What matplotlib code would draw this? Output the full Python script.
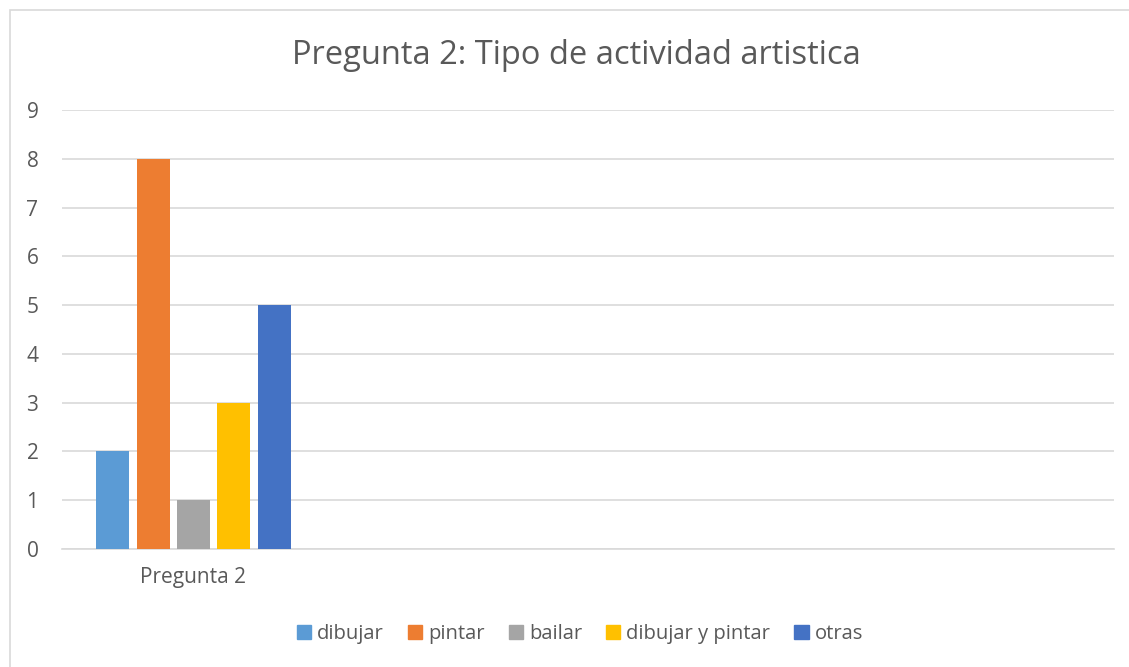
import matplotlib.pyplot as plt
from matplotlib.patches import Rectangle, Patch

plt.rcParams['font.family'] = ['Open Sans', 'DejaVu Sans']

categories = ['Pregunta 2', '', '', '']
series = ['dibujar', 'pintar', 'bailar', 'dibujar y pintar', 'otras']
values = [2, 8, 1, 3, 5]
colors = ['#5b9bd5', '#ed7d31', '#a5a5a5', '#ffc000', '#4472c4']
text_color = '#595959'

fig = plt.figure(figsize=(11.29, 6.67), dpi=100)
# chart frame like the spreadsheet chart area
fig.patches.append(Rectangle((10 / 1129, -0.1), 1.2, 1 - 10 / 667 + 0.1,
                             transform=fig.transFigure, fill=False,
                             edgecolor='#d9d9d9', linewidth=1.2))
ax = fig.add_axes([62 / 1129, 1 - 549 / 667, (1114 - 62) / 1129, (549 - 110) / 667])

width = 0.1255
step = 0.1535
for i, (name, v, c) in enumerate(zip(series, values, colors)):
    ax.bar(0.5 + (i - 2) * step, v, width=width, color=c, label=name, zorder=3)

ax.set_xlim(0, len(categories))
ax.set_ylim(0, 9)
ax.set_yticks(range(0, 10))
ax.set_xticks([0.5 + k for k in range(len(categories))])
ax.set_xticklabels(categories)
ax.yaxis.grid(True, color='#d9d9d9', linewidth=1.2, zorder=0)
for s in ['top', 'right', 'left']:
    ax.spines[s].set_visible(False)
ax.spines['bottom'].set_color('#d9d9d9')
ax.spines['bottom'].set_linewidth(1.2)
ax.tick_params(length=0, labelsize=15, labelcolor=text_color)
ax.tick_params(axis='y', pad=17)
ax.tick_params(axis='x', pad=13)

fig.text(576.5 / 1129, 1 - 56 / 667, 'Pregunta 2: Tipo de actividad artistica',
         ha='center', va='center', fontsize=23.5, color=text_color)

handles = [Patch(color=c, label=n) for n, c in zip(series, colors)]
fig.legend(handles=handles, loc='center', bbox_to_anchor=(580 / 1129, 1 - 634 / 667),
           ncol=5, frameon=False, fontsize=14.5, labelcolor=text_color,
           handlelength=0.7, handleheight=0.7, handletextpad=0.3, columnspacing=1.2)

fig.savefig('out.png', dpi=100)
